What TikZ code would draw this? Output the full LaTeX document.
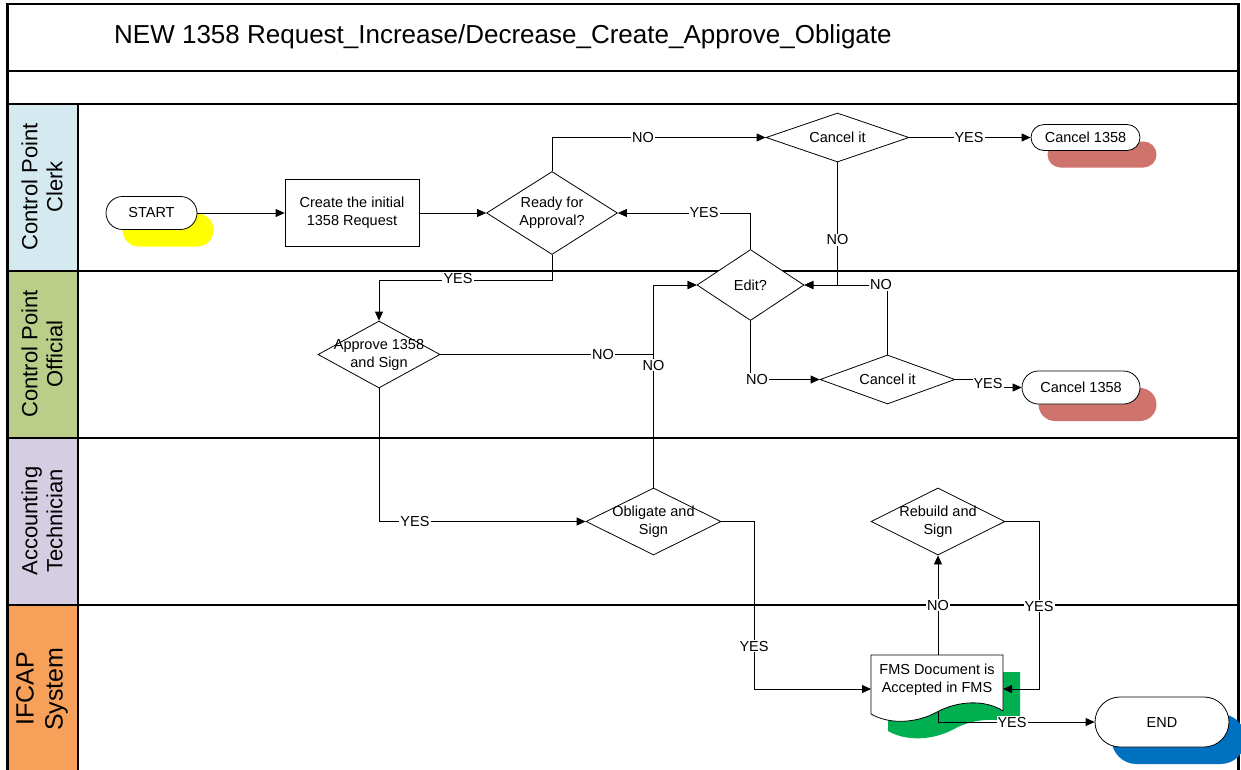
\documentclass[tikz,border=0pt]{standalone}
\usepackage{fontspec}
\setmainfont{Liberation Sans}
\usetikzlibrary{arrows.meta,shapes.geometric,shadows}
\definecolor{laneA}{RGB}{213,234,240}
\definecolor{laneB}{RGB}{186,205,137}
\definecolor{laneC}{RGB}{213,205,226}
\definecolor{laneD}{RGB}{246,160,90}
\definecolor{shY}{RGB}{255,255,0}
\definecolor{shR}{RGB}{207,116,108}
\definecolor{shG}{RGB}{0,176,80}
\definecolor{shB}{RGB}{0,112,192}
\tikzset{
  frameline/.style={line width=2.6pt},
  lanetext/.style={rotate=90, align=center, inner sep=0pt, font=\fontsize{22}{25}\selectfont},
  shapeline/.style={draw=black, line width=0.8pt, fill=white},
  termbox/.style={shapeline, rectangle, inner sep=0pt, minimum width=#1},
  sh/.style={drop shadow={shadow xshift=16.5pt, shadow yshift=-17pt, fill=#1, opacity=1}},
  procbox/.style={shapeline, rectangle, inner sep=0pt, align=center},
  dia/.style={shapeline, diamond, inner sep=0pt},
  dtext/.style={align=center, inner sep=0pt},
  conn/.style={draw=black, line width=0.8pt},
  arr/.style={conn, -{Triangle[length=9pt,width=8pt]}},
  lbl/.style={fill=white, inner sep=1pt},
}
\begin{document}
\begin{tikzpicture}[x=1pt, y=-1pt, font=\fontsize{14.5}{18}\selectfont]
\useasboundingbox (0,0) rectangle (1241,769);
\fill[white] (0,0) rectangle (1241,769);
% lane header fills
\fill[laneA] (7.5,104) rectangle (78,271);
\fill[laneB] (7.5,271) rectangle (78,438);
\fill[laneC] (7.5,438) rectangle (78,605);
\fill[laneD] (7.5,605) rectangle (78,775);
\draw[line width=1.4pt] (78,104) -- (78,775);
\draw[frameline] (7.5,775) -- (7.5,4) -- (1238.5,4) -- (1238.5,775);
\foreach \yy in {71,104,271,438,605} \draw[frameline] (6.2,\yy) -- (1239.8,\yy);
% title and lane labels
\node[anchor=west, inner sep=0pt, font=\fontsize{26}{30}\selectfont] (title) at (114,37) {NEW 1358 Request\_Increase/Decrease\_Create\_Approve\_Obligate};
\node[lanetext] (lane1) at (42,187) {Control Point\\Clerk};
\node[lanetext] (lane2) at (42,354) {Control Point\\Official};
\node[lanetext] (lane3) at (42,521) {Accounting\\Technician};
\node[lanetext, font=\fontsize{25}{29}\selectfont] (lane4) at (42,689) {IFCAP\\System};

% shapes
\node[termbox=91pt, minimum height=33pt, rounded corners=16.5pt, sh=shY] (start) at (151.5,213) {START};
\node[procbox, minimum width=134pt, minimum height=67pt] (create) at (352,213) {Create the initial\\1358 Request};
\node[dia, minimum width=131pt, minimum height=83pt] (ready) at (552,213) {};
\node[dtext] (ready-t) at (ready) {Ready for\\Approval?};
\node[dia, minimum width=143pt, minimum height=49pt] (cancel1) at (837.5,137.5) {};
\node[dtext] (cancel1-t) at (cancel1) {Cancel it};
\node[termbox=109pt, minimum height=26pt, rounded corners=13pt, sh=shR] (c1358a) at (1085.5,137.5) {Cancel 1358};
\node[dia, minimum width=107pt, minimum height=71pt] (edit) at (750.5,285) {};
\node[dtext] (edit-t) at (edit) {Edit?};
\node[dia, minimum width=135pt, minimum height=49pt] (cancel2) at (887.5,379.5) {};
\node[dtext] (cancel2-t) at (cancel2) {Cancel it};
\node[termbox=118pt, minimum height=33pt, rounded corners=16.5pt, sh=shR] (c1358b) at (1081,387.5) {Cancel 1358};
\node[dia, minimum width=122pt, minimum height=67pt] (approve) at (379,354.5) {};
\node[dtext] (approve-t) at (approve) {Approve 1358\\and Sign};
\node[dia, minimum width=135pt, minimum height=67pt] (oblig) at (653.5,521.5) {};
\node[dtext] (oblig-t) at (oblig) {Obligate and\\Sign};
\node[dia, minimum width=134pt, minimum height=67pt] (rebuild) at (938,521.5) {};
\node[dtext] (rebuild-t) at (rebuild) {Rebuild and\\Sign};
% FMS document
\fill[shG, shift={(17,17)}] (871,655) -- (1003,655) -- (1003,711) .. controls (985,699) and (957,701) .. (937,712) .. controls (917,723) and (890,725) .. (871,714) -- cycle;
\path[shapeline] (871,655) -- (1003,655) -- (1003,711) .. controls (985,699) and (957,701) .. (937,712) .. controls (917,723) and (890,725) .. (871,714) -- cycle;
\node[dtext] (fms) at (937,680) {FMS Document is\\Accepted in FMS};
\coordinate (fms-l) at (871,689);
\coordinate (fms-r) at (1003,689);
\coordinate (fms-t) at (938,655);
\coordinate (fms-b) at (938,712);
\node[termbox=134pt, minimum height=50pt, rounded corners=25pt, sh=shB] (end) at (1162,722) {END};

% connectors
\draw[arr] (start.east) -- (create.west);
\draw[arr] (create.east) -- (ready.west);
\draw[arr] (ready.north) |- (cancel1.west);
\draw[arr] (cancel1.east) -- (c1358a.west);
\draw[arr] (cancel1.south) |- (edit.east);
\draw[arr] (cancel2.north) |- (edit.east);
\draw[arr] (edit.north) |- (ready.east);
\draw[arr] (edit.south) |- (cancel2.west);
\draw[arr] (cancel2.east) -- ++(34,0) |- (c1358b.west);
\draw[arr] (ready.south) -- ++(0,25) -| (approve.north);
\draw[arr] (approve.east) -- (approve.east -| oblig.north) |- (edit.west);
\draw[arr] (oblig.north) |- (edit.west);
\draw[arr] (approve.south) |- (oblig.west);
\draw[arr] (oblig.east) -- ++(33,0) |- (fms-l);
\draw[arr] (fms-t) -- (rebuild.south);
\draw[arr] (rebuild.east) -- ++(34,0) |- (fms-r);
\draw[arr] (fms-b) |- (end.west);

% connector labels
\node[lbl] (l1) at (643,138) {NO};
\node[lbl] (l2) at (969,137.5) {YES};
\node[lbl] (l3) at (837.5,240) {NO};
\node[lbl] (l4) at (881,285) {NO};
\node[lbl] (l5) at (704,213) {YES};
\node[lbl] (l6) at (757,379.5) {NO};
\node[lbl] (l7) at (988,383) {YES};
\node[lbl] (l8) at (458,279) {YES};
\node[lbl] (l9) at (603,354.5) {NO};
\node[lbl] (l10) at (653.5,365) {NO};
\node[lbl] (l11) at (415,521.5) {YES};
\node[lbl] (l12) at (754,646) {YES};
\node[lbl] (l13) at (938,605) {NO};
\node[lbl] (l14) at (1039,606) {YES};
\node[lbl] (l15) at (1012,722) {YES};
\end{tikzpicture}
\end{document}
